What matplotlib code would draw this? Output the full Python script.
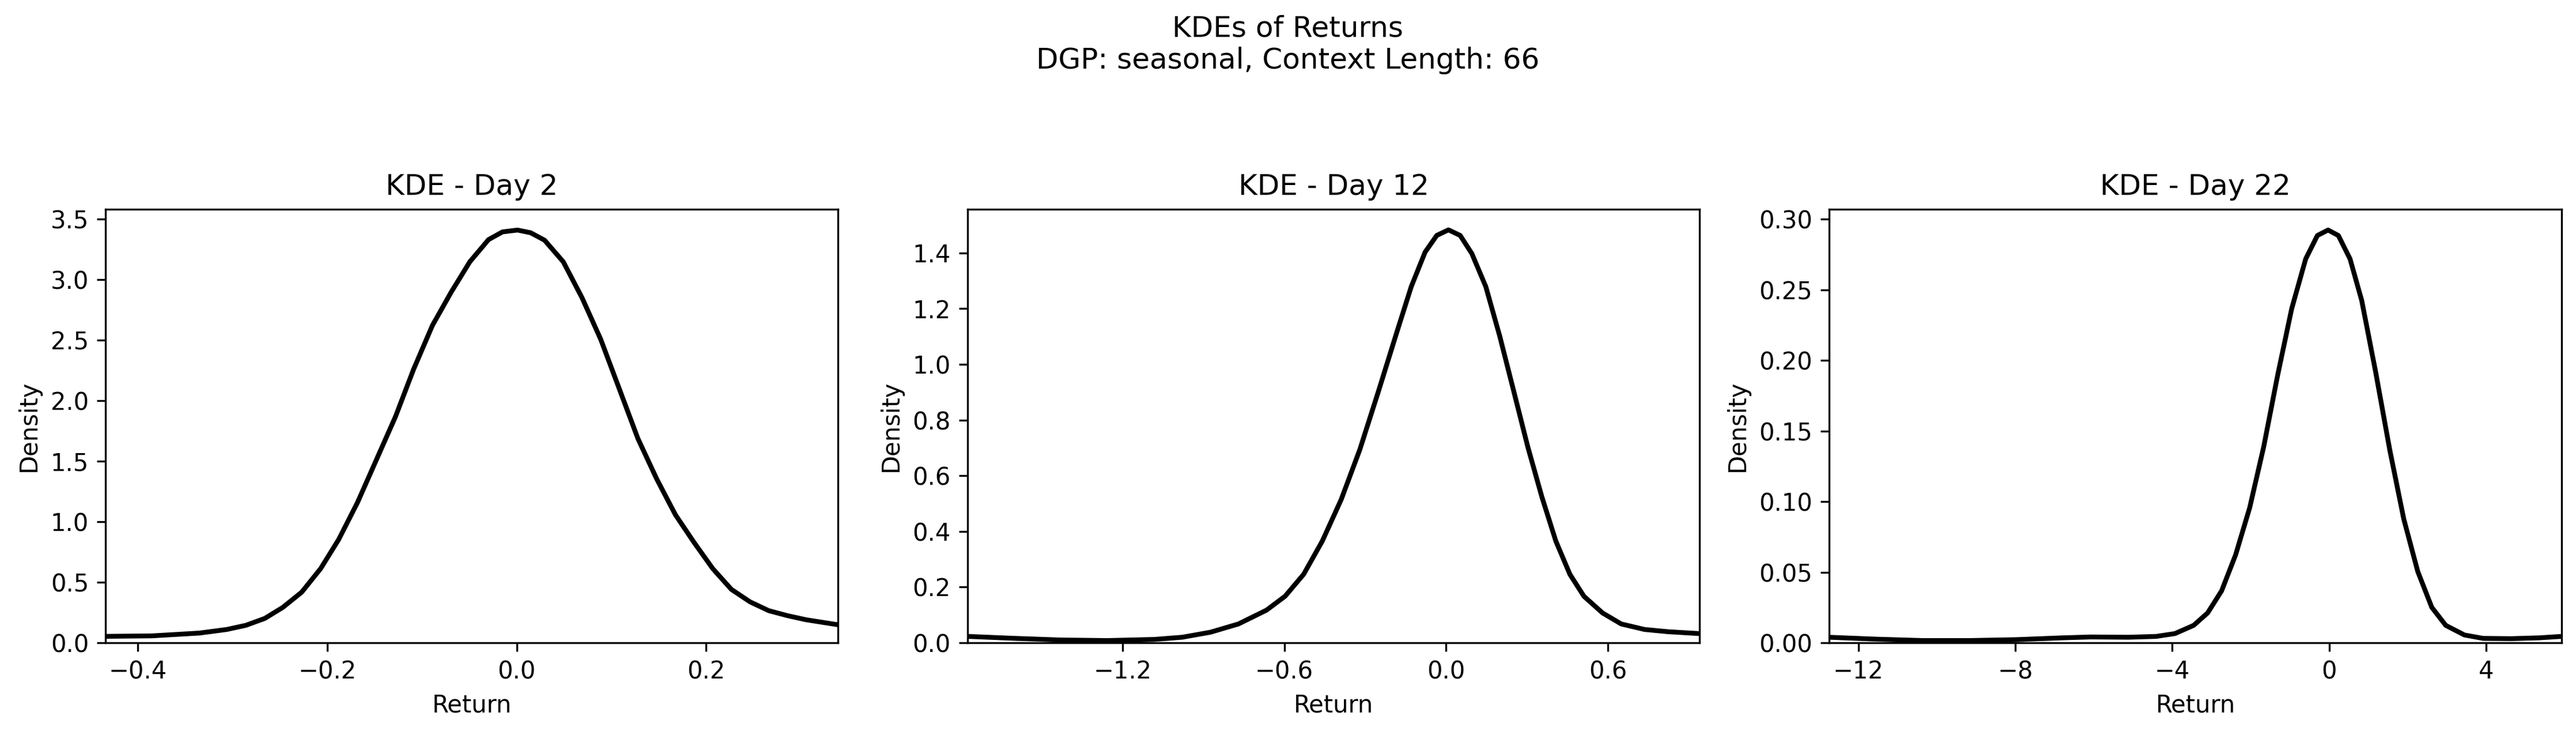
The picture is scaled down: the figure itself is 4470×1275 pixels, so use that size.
import numpy as np
import matplotlib
matplotlib.use("Agg")
import matplotlib.pyplot as plt

## values
days = [2, 12, 22]
dgp = "seasonal"
context_length = 66

day2_x = [-0.434, -0.385, -0.335, -0.306, -0.286, -0.266, -0.247, -0.227, -0.207, -0.188,
          -0.168, -0.148, -0.128, -0.109, -0.089, -0.0692, -0.0495, -0.0298, -0.015, 0.0008,
          0.0146, 0.0294, 0.0491, 0.0689, 0.0886, 0.1083, 0.128, 0.1477, 0.1675, 0.1872,
          0.2069, 0.2266, 0.2463, 0.2661, 0.2858, 0.3055, 0.339]
day2_y = [0.053, 0.057, 0.080, 0.110, 0.144, 0.201, 0.292, 0.418, 0.613, 0.853,
          1.161, 1.515, 1.869, 2.258, 2.623, 2.898, 3.149, 3.332, 3.396, 3.411,
          3.389, 3.327, 3.149, 2.852, 2.509, 2.098, 1.686, 1.355, 1.058, 0.829,
          0.613, 0.441, 0.338, 0.265, 0.224, 0.190, 0.149]

day12_x = [-1.775, -1.602, -1.429, -1.255, -1.082, -0.978, -0.874, -0.770, -0.666, -0.597,
           -0.528, -0.459, -0.389, -0.320, -0.251, -0.181, -0.129, -0.0776, -0.0343, 0.0091,
           0.0524, 0.0957, 0.1476, 0.1996, 0.2516, 0.3035, 0.3555, 0.4074, 0.4594, 0.5114,
           0.5807, 0.6499, 0.7365, 0.8232, 0.941]
day12_y = [0.0229, 0.0159, 0.0099, 0.0079, 0.012, 0.0199, 0.0378, 0.0675, 0.117, 0.167,
           0.246, 0.365, 0.514, 0.693, 0.902, 1.120, 1.279, 1.403, 1.463, 1.483,
           1.463, 1.398, 1.279, 1.100, 0.902, 0.703, 0.524, 0.365, 0.246, 0.167,
           0.107, 0.0675, 0.0477, 0.0397, 0.0328]

day22_x = [-12.74, -11.55, -10.36, -9.17, -7.98, -6.79, -6.074, -5.123, -4.409, -3.933,
           -3.457, -3.100, -2.743, -2.386, -2.029, -1.672, -1.315, -0.958, -0.601, -0.303,
           -0.0297, 0.232, 0.530, 0.827, 1.184, 1.541, 1.898, 2.255, 2.612, 2.969,
           3.445, 3.921, 4.636, 5.35, 5.92]
day22_y = [0.0039, 0.00255, 0.00157, 0.00157, 0.0022, 0.0035, 0.0041, 0.0039, 0.0045, 0.0065,
           0.0123, 0.0211, 0.0368, 0.0623, 0.0955, 0.1386, 0.1895, 0.2365, 0.2718, 0.2884,
           0.2923, 0.2884, 0.2718, 0.2424, 0.1915, 0.1367, 0.0877, 0.0505, 0.0251, 0.0123,
           0.0055, 0.0031, 0.0029, 0.0035, 0.0045]

curves = [(day2_x, day2_y), (day12_x, day12_y), (day22_x, day22_y)]
x_limits = [(-0.434, 0.339), (-1.775, 0.941), (-12.74, 5.92)]
y_limits = [(0, 3.583), (0, 1.557), (0, 0.307)]
x_ticks = [[-0.4, -0.2, 0.0, 0.2], [-1.2, -0.6, 0.0, 0.6], [-12, -8, -4, 0, 4]]

fig, axes = plt.subplots(1, 3, figsize=(14.9, 4.25), dpi=300)
for ax, day, (x, y), xl, yl, xt in zip(axes, days, curves, x_limits, y_limits, x_ticks):
    ax.plot(x, y, color='black', lw=2, solid_joinstyle='round')
    ax.set_xlim(*xl)
    ax.set_ylim(*yl)
    ax.set_xticks(xt)
    ax.set_title(f"KDE - Day {day}")
    ax.set_xlabel("Return")
    ax.set_ylabel("Density")

fig.suptitle(f"KDEs of Returns\nDGP: {dgp}, Context Length: {context_length}")
plt.subplots_adjust(left=0.041, right=0.9944, bottom=0.1255, top=0.7153, wspace=0.177)
fig.savefig("out.png", dpi=300)
